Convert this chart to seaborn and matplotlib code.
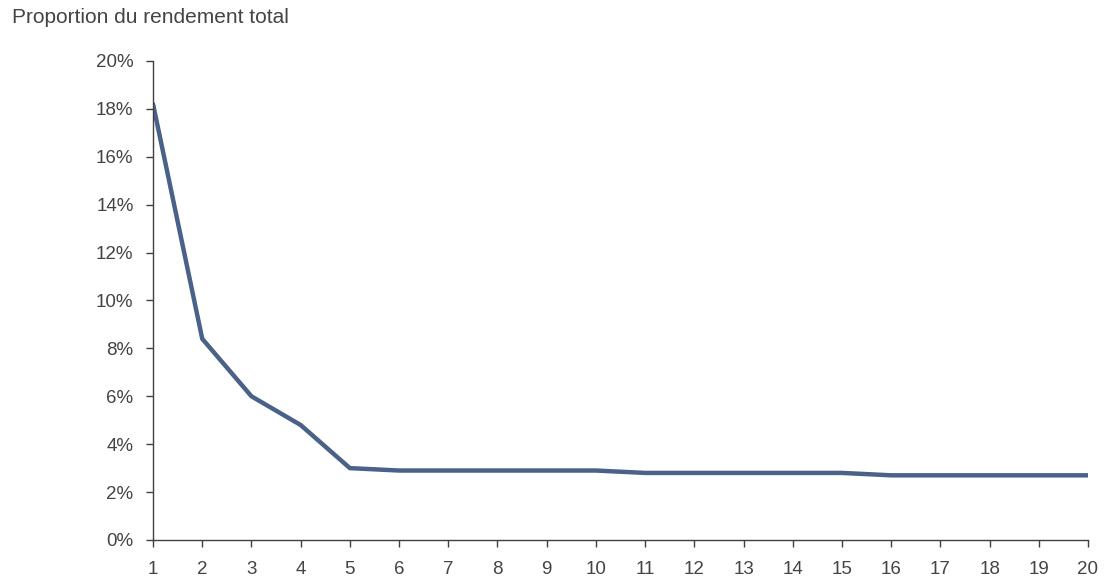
import matplotlib
matplotlib.use("Agg")
import matplotlib.pyplot as plt
import seaborn as sns
import pandas as pd
from matplotlib.ticker import FuncFormatter

# Share of total return by rank
rangs = list(range(1, 21))
proportion = [18.2, 8.4, 6.0, 4.8, 3.0,
              2.9, 2.9, 2.9, 2.9, 2.9,
              2.8, 2.8, 2.8, 2.8, 2.8,
              2.7, 2.7, 2.7, 2.7, 2.7]
y_ticks = [0, 2, 4, 6, 8, 10, 12, 14, 16, 18, 20]

df = pd.DataFrame({"rang": rangs, "proportion": proportion})

sns.set_theme(style="white")
plt.rcParams["font.family"] = ["Liberation Sans", "DejaVu Sans"]

fig = plt.figure(figsize=(11.05, 5.82), dpi=100)
ax = fig.add_axes([0.1385, 0.0722, 0.9846 - 0.1385, 0.8952 - 0.0722])

sns.lineplot(data=df, x="rang", y="proportion", ax=ax,
             color="#4a6188", linewidth=3.2, solid_joinstyle="miter")

ax.set_xlim(1, 20)
ax.set_ylim(0, 20)
ax.set_xticks(rangs)
ax.set_yticks(y_ticks)
ax.yaxis.set_major_formatter(FuncFormatter(lambda v, _: f"{v:.0f}%"))
ax.set_xlabel("")
ax.set_ylabel("")

for side in ("top", "right"):
    ax.spines[side].set_visible(False)
for side in ("left", "bottom"):
    ax.spines[side].set_color("#404040")
    ax.spines[side].set_linewidth(1.0)

ax.tick_params(axis="both", which="major", direction="out", length=5,
               width=1.0, color="#404040", labelsize=13.5, labelcolor="#444444",
               bottom=True, left=True)
ax.tick_params(axis="x", pad=10)
ax.tick_params(axis="y", pad=9)

fig.text(0.011, 0.97, "Proportion du rendement total", fontsize=15,
         color="#444444", ha="left", va="center")

fig.savefig("out.png", dpi=100, facecolor="white")
